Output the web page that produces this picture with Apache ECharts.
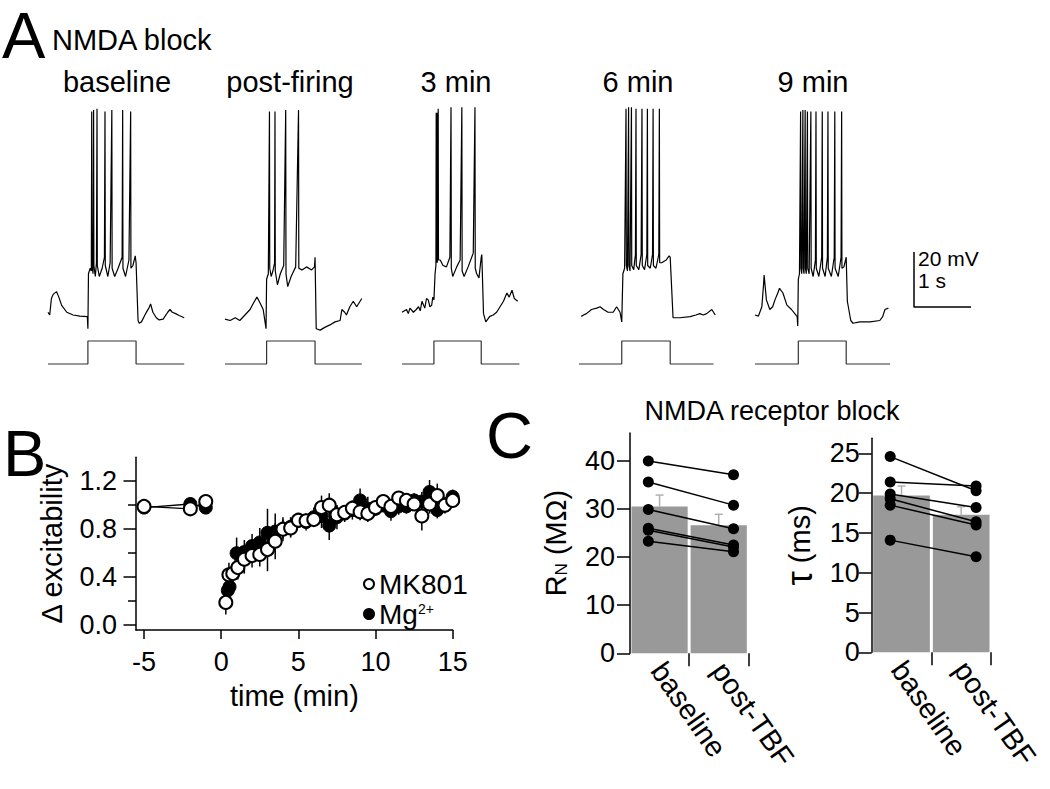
<!DOCTYPE html>
<html><head><meta charset="utf-8">
<script src="https://cdn.jsdelivr.net/npm/echarts@6/dist/echarts.min.js"></script>
<style>html,body{margin:0;padding:0;background:#fff}#c{width:1050px;height:789px}</style>
</head><body><div id="c"></div>
<script>
// ---------------- DATA ----------------
// Panel A: membrane potential traces [time (s), Vm (mV)]
const traceTitles = ['baseline', 'post-firing', '3 min', '6 min', '9 min'];
const traceBaseline = [[0.00,-64],[0.03,-65],[0.06,-59],[0.09,-57.5],[0.15,-56.5],[0.19,-58.5],[0.24,-61.5],[0.33,-64],[0.44,-65],[0.56,-65.4],[0.69,-65.6],
 [0.70,-70],[0.71,-50],[0.74,-48],[0.76,-49],[0.767,9],[0.772,-47],[0.79,-50],[0.80,9.5],[0.805,-47],[0.83,-51],[0.85,-46],[0.86,10],[0.865,-47],[0.90,-51],[0.95,-48],[0.99,-44],[1.00,9],[1.005,-47],[1.05,-51],[1.09,-46],[1.12,9.5],[1.125,-48],[1.17,-51],[1.23,-48],[1.30,-44],[1.31,9.5],[1.315,-48],[1.36,-51],[1.42,-45],[1.45,9],[1.455,-48],[1.49,-47],[1.53,-43.5],[1.545,-46],[1.58,-67],[1.60,-68],[1.64,-67.5],[1.70,-65],[1.74,-63.5],[1.77,-62.5],[1.80,-61],[1.84,-64],[1.90,-66],[1.95,-66.8],[2.02,-66.5],[2.10,-64],[2.14,-63],[2.18,-64],[2.24,-64.5],[2.30,-65.2],[2.39,-66]];
const tracePostFiring = [[0,-66.5],[0.09,-67],[0.18,-66],[0.26,-67],[0.35,-65],[0.44,-63],[0.49,-61],[0.56,-58.5],[0.60,-60],[0.67,-63],[0.72,-70],[0.73,-52],[0.76,-50],[0.78,9],[0.785,-48],[0.81,-51],[0.84,-49],[0.87,-46],[0.877,9],[0.882,-49],[0.92,-54],[0.97,-50],[1.03,-47],[1.065,9.5],[1.07,-50],[1.10,-54.7],[1.16,-51],[1.24,-47.5],[1.29,9.5],[1.295,-48],[1.35,-48.6],[1.43,-47.5],[1.52,-48.6],[1.57,-47.5],[1.58,-44],[1.60,-70],[1.67,-70.5],[1.75,-69.5],[1.84,-68.6],[1.93,-67.5],[2.02,-67],[2.05,-63],[2.10,-64],[2.13,-65],[2.19,-62],[2.25,-60],[2.31,-62],[2.37,-60],[2.40,-59]];
const trace3min = [[0,-64],[0.08,-63],[0.11,-64.5],[0.14,-62.5],[0.2,-64],[0.25,-63],[0.29,-62],[0.32,-63.5],[0.35,-60],[0.40,-62.5],[0.43,-59],[0.46,-59.5],[0.49,-62],[0.52,-61.5],[0.54,-58.5],[0.56,-59.5],[0.58,-50],[0.595,-47],[0.60,8.5],[0.605,-46],[0.615,8.5],[0.62,-46],[0.635,10],[0.64,-45],[0.67,-45],[0.72,-47],[0.78,-47.5],[0.84,-44],[0.86,10.5],[0.865,-48],[0.89,-51],[0.96,-47.5],[1.02,-45],[1.05,10.5],[1.055,-49],[1.09,-51],[1.16,-47.5],[1.25,-42.5],[1.28,10.5],[1.285,-48],[1.31,-50],[1.35,-51.5],[1.39,-44],[1.40,-43],[1.43,-64.5],[1.47,-67.5],[1.54,-65.5],[1.6,-65],[1.66,-64],[1.72,-62],[1.78,-60],[1.84,-57],[1.88,-58.5],[1.93,-56],[1.97,-59],[2.03,-60]];
const trace6min = [[0.04,-65.5],[0.08,-65],[0.13,-64.5],[0.22,-63],[0.31,-62.5],[0.37,-62],[0.43,-63],[0.51,-64],[0.60,-64],[0.66,-62],[0.72,-64],[0.75,-67.5],[0.77,-50],[0.80,-48],[0.825,10],[0.83,-47],[0.85,-49],[0.87,10.5],[0.875,-47],[0.895,-49],[0.92,10.5],[0.925,-47],[0.96,-48.5],[0.99,-43],[1.0,10],[1.005,-47],[1.05,-48.5],[1.09,-43],[1.105,10],[1.11,-47],[1.15,-48.5],[1.19,-43],[1.20,10],[1.205,-47],[1.25,-48],[1.29,-43],[1.30,10],[1.305,-47],[1.35,-48],[1.40,-43],[1.41,10],[1.415,-46],[1.45,-46],[1.53,-45],[1.58,-43.5],[1.60,-44],[1.65,-66],[1.77,-66],[1.95,-65.6],[2.05,-65],[2.12,-64.5],[2.18,-65],[2.24,-64.5],[2.33,-63],[2.39,-65]];
const trace9min = [[0,-65],[0.06,-65.4],[0.12,-62],[0.15,-54],[0.16,-50.5],[0.18,-55],[0.2,-59.5],[0.26,-63],[0.31,-62],[0.35,-59.5],[0.40,-57],[0.43,-55.3],[0.49,-57],[0.56,-61.4],[0.64,-63],[0.74,-65.6],[0.75,-69],[0.76,-52],[0.78,-50],[0.80,9],[0.805,-48],[0.82,-50],[0.84,9.5],[0.845,-48],[0.86,-50],[0.88,9.5],[0.885,-48],[0.90,-50],[0.92,9],[0.925,-48],[0.95,-50],[0.98,9],[0.985,-48],[1.02,-51],[1.06,-45],[1.07,9],[1.075,-48],[1.12,-51],[1.17,-44],[1.18,9],[1.185,-48],[1.23,-51],[1.27,-44],[1.28,9],[1.285,-48],[1.34,-51],[1.39,-44],[1.40,9],[1.405,-48],[1.46,-51],[1.51,-44],[1.52,9],[1.525,-48],[1.56,-47.5],[1.60,-44],[1.62,-60],[1.68,-67],[1.72,-68],[1.84,-67.5],[2.02,-67.5],[2.19,-67],[2.24,-65.6],[2.28,-63],[2.34,-62.5]];
// current step commands [time (s), I (nA)]
const pulseBaseline = [[0,0],[0.70,0],[0.70,1],[1.545,1],[1.545,0],[2.39,0]];
const pulsePostFiring = [[0,0],[0.73,0],[0.73,1],[1.58,1],[1.58,0],[2.40,0]];
const pulse3min = [[0,0],[0.56,0],[0.56,1],[1.39,1],[1.39,0],[2.06,0]];
const pulse6min = [[0,0],[0.75,0],[0.75,1],[1.60,1],[1.60,0],[2.36,0]];
const pulse9min = [[0,0],[0.76,0],[0.76,1],[1.60,1],[1.60,0],[2.37,0]];
const scaleBarMv = 20, scaleBarS = 1;

// Panel B: normalized excitability vs time
const mkTime = [-5,-2,-1,0.3,0.5,0.75,1.08,1.5,2.0,2.5,3.0,3.5,4.0,4.5,5.0,5.5,6.0,6.5,7.0,7.5,8.0,8.5,9.0,9.5,10.0,10.5,11.0,11.5,12.0,12.5,13.0,13.5,14.0,14.5,15.0];
const mkValue = [0.99,0.97,1.03,0.19,0.42,0.43,0.48,0.55,0.58,0.59,0.63,0.70,0.80,0.81,0.875,0.87,0.88,0.98,1.0,0.92,0.94,0.975,0.945,0.93,0.98,1.03,0.99,1.06,1.04,1.01,0.91,1.01,1.08,1.0,1.04];
const mkSem = [0.02,0.03,0.04,0.1,0.1,0.08,0.1,0.12,0.1,0.1,0.18,0.15,0.08,0.08,0.06,0.06,0.06,0.1,0.1,0.08,0.06,0.06,0.07,0.07,0.06,0.05,0.06,0.05,0.05,0.05,0.12,0.08,0.1,0.06,0.06];
const mgTime = [-5,-2,-1,0.43,0.54,1.0,1.5,2.0,2.5,3.0,3.5,4.0,4.5,5.0,5.5,6.0,6.5,7.0,7.5,8.0,8.5,9.0,9.5,10.0,10.5,11.0,11.5,12.0,12.5,13.0,13.5,14.0,14.5,15.0];
const mgValue = [0.98,1.01,0.98,0.29,0.32,0.60,0.61,0.66,0.69,0.77,0.78,0.80,0.82,0.87,0.86,0.90,0.91,0.83,0.90,0.93,0.96,1.04,0.97,0.97,1.0,0.95,0.99,0.99,1.04,1.03,1.11,0.96,1.0,1.07];
const mgSem = [0.02,0.05,0.03,0.08,0.08,0.13,0.1,0.1,0.12,0.2,0.15,0.1,0.08,0.06,0.07,0.08,0.1,0.12,0.1,0.07,0.08,0.1,0.1,0.06,0.06,0.08,0.07,0.06,0.06,0.08,0.1,0.07,0.07,0.06];
const bTicksX = [-5, 0, 5, 10, 15];
const bTicksY = [0, 0.4, 0.8, 1.2];
const bMinorY = [0.2, 0.6, 1.0];

// Panel C
const cCategories = ['baseline', 'post-TBF'];
const rnTicks = [0, 10, 20, 30, 40];
const rnMean = [30.5, 26.6];
const rnSem = [2.4, 2.3];
const rnBaseline = [40.0, 35.6, 29.9, 26.0, 25.6, 23.3];
const rnPost = [37.1, 30.8, 25.9, 22.5, 22.1, 21.1];
const tauTicks = [0, 5, 10, 15, 20, 25];
const tauMean = [19.7, 17.3];
const tauSem = [1.2, 1.0];
const tauBaseline = [24.6, 21.4, 19.9, 19.3, 18.5, 14.1];
const tauPost = [20.3, 20.9, 18.2, 16.4, 16.0, 12.0];

// ---------------- LAYOUT / BUILD ----------------
const FONT = '"Liberation Sans", Arial, Helvetica, sans-serif';
const grids = [], xAxes = [], yAxes = [], series = [], graphics = [];
function addGrid(r) { grids.push(r); return grids.length - 1; }
function addX(o) { xAxes.push(o); return xAxes.length - 1; }
function addY(o) { yAxes.push(o); return yAxes.length - 1; }
function txt(text, x, y, size, align) {
  graphics.push({ type: 'text', x: x, y: y, silent: true,
    style: { text: text, fontSize: size, fontFamily: FONT, fill: '#000',
      textAlign: align || 'left', textVerticalAlign: 'middle', align: align || 'left', verticalAlign: 'middle' } });
}

// Panel A
const traces = [traceBaseline, tracePostFiring, trace3min, trace6min, trace9min];
const pulses = [pulseBaseline, pulsePostFiring, pulse3min, pulse6min, pulse9min];
const traceLeft = [48, 225, 402, 579, 755];
const titleX = [117, 290, 456, 638, 813];
const PX_PER_S = 57, PX_PER_MV = 2.75, T_SPAN = 2.4;
for (let i = 0; i < 5; i++) {
  const g = addGrid({ left: traceLeft[i], top: 95, width: T_SPAN * PX_PER_S, height: 87 * PX_PER_MV });
  const xa = addX({ type: 'value', gridIndex: g, min: 0, max: T_SPAN, show: false });
  const ya = addY({ type: 'value', gridIndex: g, min: -72, max: 15, show: false });
  series.push({ type: 'line', xAxisIndex: xa, yAxisIndex: ya, data: traces[i], symbol: 'none', clip: false,
    lineStyle: { color: '#000', width: 1.2 }, silent: true });
  const gp = addGrid({ left: traceLeft[i], top: 336.4, width: T_SPAN * PX_PER_S, height: 32.2 });
  const xp = addX({ type: 'value', gridIndex: gp, min: 0, max: T_SPAN, show: false });
  const yp = addY({ type: 'value', gridIndex: gp, min: -0.2, max: 1.2, show: false });
  series.push({ type: 'line', xAxisIndex: xp, yAxisIndex: yp, data: pulses[i], symbol: 'none', clip: false,
    lineStyle: { color: '#333', width: 1.2 }, silent: true });
  txt(traceTitles[i], titleX[i], 82, 29, 'center');
}
// scale bar
{
  const g = addGrid({ left: 914, top: 252, width: scaleBarS * PX_PER_S, height: scaleBarMv * PX_PER_MV });
  const xa = addX({ type: 'value', gridIndex: g, min: 0, max: scaleBarS, show: false });
  const ya = addY({ type: 'value', gridIndex: g, min: 0, max: scaleBarMv, show: false });
  series.push({ type: 'line', xAxisIndex: xa, yAxisIndex: ya, data: [[0, scaleBarMv], [0, 0], [scaleBarS, 0]],
    symbol: 'none', clip: false, lineStyle: { color: '#000', width: 1.5 }, silent: true });
  txt(scaleBarMv + ' mV', 918, 258, 21);
  txt(scaleBarS + ' s', 918, 280, 21);
}
txt('A', 2, 35, 65);
txt('NMDA block', 52, 40, 29);
txt('B', 3, 453, 65);
txt('C', 486, 435, 65);
txt('NMDA receptor block', 772, 411, 27, 'center');

// Panel B
const axisLine = { show: true, onZero: false, lineStyle: { color: '#000', width: 1.5 } };
const tickStyle = { color: '#000', width: 1.5 };
{
  const g = addGrid({ left: 136, top: 457.2, width: 316.7, height: 172.8 });
  const xa = addX({ type: 'value', gridIndex: g, min: -5.52, max: 15, position: 'bottom',
    name: 'time (min)', nameLocation: 'middle', nameGap: 51,
    nameTextStyle: { fontSize: 29, fontFamily: FONT, color: '#000' },
    axisLine: axisLine, splitLine: { show: false },
    axisTick: { show: true, length: 9, customValues: bTicksX, lineStyle: tickStyle },
    axisLabel: { customValues: bTicksX, fontSize: 27, fontFamily: FONT, color: '#000', margin: 18 } });
  const ya = addY({ type: 'value', gridIndex: g, min: -0.04, max: 1.4, position: 'left',
    name: 'Δ excitability', nameLocation: 'middle', nameGap: 70,
    nameTextStyle: { fontSize: 29, fontFamily: FONT, color: '#000' },
    axisLine: axisLine, splitLine: { show: false },
    axisTick: { show: true, length: 12.5, customValues: bTicksY, lineStyle: tickStyle },
    axisLabel: { customValues: bTicksY, fontSize: 27, fontFamily: FONT, color: '#000', margin: 19,
      formatter: v => v.toFixed(1) } });
  addY({ type: 'value', gridIndex: g, min: -0.04, max: 1.4, position: 'left', offset: 0,
    axisLine: { show: false, onZero: false }, splitLine: { show: false },
    axisTick: { show: true, length: 8, customValues: bMinorY, lineStyle: tickStyle },
    axisLabel: { show: false } });
  function errSeries(t, v, s) {
    return { type: 'custom', xAxisIndex: xa, yAxisIndex: ya, z: 1, silent: true,
      data: t.map((tt, i) => [tt, v[i], s[i]]),
      renderItem: function (params, api) {
        const lo = api.coord([api.value(0), api.value(1) - api.value(2)]);
        const hi = api.coord([api.value(0), api.value(1) + api.value(2)]);
        return { type: 'line', shape: { x1: lo[0], y1: lo[1], x2: hi[0], y2: hi[1] },
          style: { stroke: '#000', lineWidth: 1.5 } };
      } };
  }
  series.push(errSeries(mgTime, mgValue, mgSem));
  series.push(errSeries(mkTime, mkValue, mkSem));
  function groupSeries(name, t, v, style, z) {
    const pre = [], post = [];
    t.forEach((tt, i) => (tt < 0 ? pre : post).push([tt, v[i]]));
    return [pre, post].map(d => ({ type: 'line', name: name, xAxisIndex: xa, yAxisIndex: ya, z: z,
      data: d, symbol: 'circle', symbolSize: 13, showSymbol: true,
      itemStyle: style, lineStyle: { color: '#000', width: 1.3 } }));
  }
  groupSeries('Mg2+', mgTime, mgValue, { color: '#000', borderColor: '#000', borderWidth: 1 }, 2).forEach(s => series.push(s));
  groupSeries('MK801', mkTime, mkValue, { color: '#fff', borderColor: '#000', borderWidth: 2 }, 3).forEach(s => series.push(s));
}

// Panel C
const DOT_X = [0.31, 1.75];
function barPanel(p) {
  const g = addGrid({ left: p.left, top: p.top, width: p.width, height: p.height });
  const xc = addX({ type: 'category', gridIndex: g, data: cCategories, show: false });
  const xv = addX({ type: 'value', gridIndex: g, min: 0, max: 2, position: 'bottom',
    axisLine: { show: false, onZero: false }, splitLine: { show: false },
    axisTick: { show: true, length: 13, customValues: [1, 2], lineStyle: tickStyle },
    axisLabel: { customValues: p.labelPos, rotate: -55, margin: 12, fontSize: 29, fontFamily: FONT, color: '#000',
      formatter: v => (v < 1 ? cCategories[0] : cCategories[1]) } });
  const ya = addY({ type: 'value', gridIndex: g, min: 0, max: p.max, position: 'left',
    name: p.name, nameLocation: 'middle', nameGap: p.nameGap,
    nameTextStyle: { fontSize: 29, fontFamily: FONT, color: '#000', rich: p.rich },
    axisLine: axisLine, splitLine: { show: false },
    axisTick: { show: true, length: 13, customValues: p.ticks, lineStyle: tickStyle },
    axisLabel: { customValues: p.ticks, fontSize: 27, fontFamily: FONT, color: '#000', margin: p.labelMargin } });
  series.push({ type: 'bar', xAxisIndex: xc, yAxisIndex: ya, data: p.mean, barCategoryGap: '5%',
    itemStyle: { color: '#999999' }, silent: true, z: 1 });
  series.push({ type: 'custom', xAxisIndex: xc, yAxisIndex: ya, z: 2, silent: true,
    data: p.mean.map((m, i) => [i, m, p.sem[i]]),
    renderItem: function (params, api) {
      const b = api.coord([api.value(0), api.value(1)]);
      const t = api.coord([api.value(0), api.value(1) + api.value(2)]);
      return { type: 'group', children: [
        { type: 'line', shape: { x1: b[0], y1: b[1], x2: t[0], y2: t[1] }, style: { stroke: '#b0b0b0', lineWidth: 1.5 } },
        { type: 'line', shape: { x1: t[0] - 4, y1: t[1], x2: t[0] + 4, y2: t[1] }, style: { stroke: '#b0b0b0', lineWidth: 1.5 } }
      ] };
    } });
  p.base.forEach((b, k) => {
    series.push({ type: 'line', xAxisIndex: xv, yAxisIndex: ya, z: 3, silent: true,
      data: [[DOT_X[0], b], [DOT_X[1], p.post[k]]], symbol: 'circle', symbolSize: 11,
      itemStyle: { color: '#000' }, lineStyle: { color: '#000', width: 1.5 } });
  });
}
barPanel({ left: 630, top: 433, width: 118.3, height: 220.3, max: 45.8, ticks: rnTicks,
  mean: rnMean, sem: rnSem, base: rnBaseline, post: rnPost, labelPos: [0.47, 1.5], labelMargin: 15,
  name: '{a|R}{s|N}{a| (MΩ)}', nameGap: 60,
  rich: { a: { fontSize: 29, fontFamily: FONT, color: '#000' }, s: { fontSize: 17, fontFamily: FONT, color: '#000', verticalAlign: 'bottom', padding: [12, 0, 0, 0] } } });
barPanel({ left: 871.7, top: 438.3, width: 119.3, height: 214, max: 26.9, ticks: tauTicks,
  mean: tauMean, sem: tauSem, base: tauBaseline, post: tauPost, labelPos: [0.44, 1.49], labelMargin: 12,
  name: '{t|τ}{a| (ms)}', nameGap: 54,
  rich: { a: { fontSize: 29, fontFamily: FONT, color: '#000' }, t: { fontSize: 36, fontFamily: FONT, color: '#000' } } });

const chart = echarts.init(document.getElementById('c'), null, { renderer: 'svg', width: 1050, height: 789 });
chart.setOption({
  animation: false,
  backgroundColor: '#fff',
  grid: grids, xAxis: xAxes, yAxis: yAxes, series: series,
  legend: { data: ['MK801', 'Mg2+'], orient: 'vertical', left: 358, top: 565, icon: 'circle',
    itemWidth: 10, itemHeight: 10, itemGap: 2, selectedMode: false,
    formatter: n => (n === 'Mg2+' ? 'Mg{sup|2+}' : n),
    textStyle: { fontSize: 28, fontFamily: FONT, color: '#000', lineHeight: 24,
      rich: { sup: { fontSize: 14, fontFamily: FONT, color: '#000', verticalAlign: 'top', lineHeight: 14 } } } },
  graphic: { elements: graphics }
});
</script></body></html>
